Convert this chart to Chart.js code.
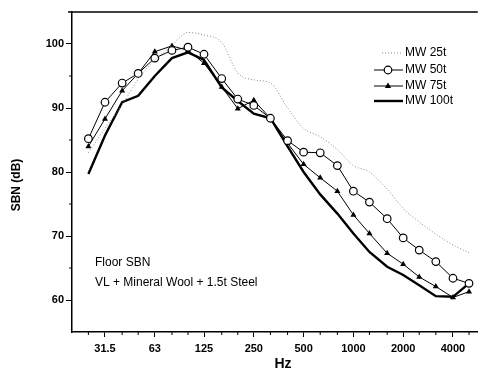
<!DOCTYPE html>
<html>
<head>
<meta charset="utf-8">
<script src="https://cdn.jsdelivr.net/npm/chart.js@4.4.0/dist/chart.umd.min.js"></script>
<style>
  html, body { margin: 0; padding: 0; background: #fff; }
  #wrap { width: 483px; height: 378px; }
</style>
</head>
<body>
<div id="wrap"><canvas id="myChart"></canvas></div>
<script>
// 1/3 octave bands (Hz)
const bands = [25, 31.5, 40, 50, 63, 80, 100, 125, 160, 200, 250, 315, 400, 500, 630, 800, 1000, 1250, 1600, 2000, 2500, 3150, 4000, 5000];
const octaveTicks = [31.5, 63, 125, 250, 500, 1000, 2000, 4000];
const yTicks = [60, 70, 80, 90, 100];
const yMinorTicks = [65, 75, 85, 95];

const mw25 = [83.0, 86.8, 90.5, 94.5, 97.5, 99.8, 101.8, 101.4, 100.2, 95.5, 94.4, 93.9, 90.0, 86.8, 85.5, 83.5, 81.0, 80.0, 77.3, 74.3, 72.2, 70.3, 68.6, 67.4];
const mw50 = [85.2, 90.9, 93.9, 95.4, 97.8, 99.0, 99.5, 98.4, 94.6, 91.4, 90.4, 88.4, 84.9, 83.1, 83.0, 81.0, 77.0, 75.3, 72.7, 69.7, 67.8, 66.0, 63.4, 62.6];
const mw75 = [84.0, 88.3, 92.7, 95.4, 98.8, 99.7, 99.0, 97.0, 93.3, 89.9, 91.2, 88.4, 84.5, 81.2, 79.1, 77.0, 73.3, 70.4, 67.3, 65.6, 63.6, 62.1, 60.4, 61.3];
const mw100 = [79.7, 85.7, 90.9, 91.9, 95.0, 97.8, 98.7, 97.5, 93.2, 91.1, 89.1, 88.4, 84.0, 80.0, 76.5, 73.5, 70.4, 67.5, 65.2, 63.9, 62.3, 60.6, 60.5, 62.6];

const FONT = "'Liberation Sans', Arial, sans-serif";
const toPoints = (arr) => bands.map((f, i) => ({ x: f, y: arr[i] }));

// legend, frame, minor ticks, titles and note
const decorations = {
  id: "decorations",
  afterDraw(chart) {
    const { ctx, chartArea, scales } = chart;
    const x = scales.x, y = scales.y;
    ctx.save();
    ctx.strokeStyle = "#000";
    ctx.lineWidth = 1.5;
    // top frame line
    ctx.beginPath();
    ctx.moveTo(chartArea.left - 4, chartArea.top);
    ctx.lineTo(chartArea.right, chartArea.top);
    ctx.stroke();

    // minor ticks
    ctx.lineWidth = 1;
    bands.forEach((f) => {
      if (octaveTicks.includes(f)) return;
      const px = x.getPixelForValue(f);
      ctx.beginPath();
      ctx.moveTo(px, chartArea.bottom);
      ctx.lineTo(px, chartArea.bottom + 3);
      ctx.stroke();
    });
    yMinorTicks.forEach((v) => {
      const py = y.getPixelForValue(v);
      ctx.beginPath();
      ctx.moveTo(chartArea.left - 3, py);
      ctx.lineTo(chartArea.left, py);
      ctx.stroke();
    });

    // axis titles
    ctx.fillStyle = "#000";
    ctx.textAlign = "center";
    ctx.textBaseline = "middle";
    ctx.font = "bold 14px " + FONT;
    ctx.fillText("Hz", 283, 364);
    ctx.font = "bold 12px " + FONT;
    ctx.save();
    ctx.translate(17, 185);
    ctx.rotate(-Math.PI / 2);
    ctx.fillText("SBN (dB)", 0, 0);
    ctx.restore();

    // note
    ctx.font = "12px " + FONT;
    ctx.textAlign = "left";
    ctx.fillText("Floor SBN", 95, 263);
    ctx.fillText("VL + Mineral Wool + 1.5t Steel", 95, 283);

    // legend
    const rows = [53, 70, 86, 101];
    chart.data.datasets.forEach((ds, i) => {
      const ry = rows[i];
      const x1 = i === 0 ? 382 : 374, x2 = 403;
      ctx.strokeStyle = ds.borderColor;
      ctx.lineWidth = ds.borderWidth;
      ctx.setLineDash(ds.borderDash || []);
      ctx.beginPath();
      ctx.moveTo(x1, ry);
      ctx.lineTo(x2, ry);
      ctx.stroke();
      ctx.setLineDash([]);
      const mx = 388;
      if (ds.pointStyle === "circle" && ds.pointRadius > 0) {
        ctx.beginPath();
        ctx.arc(mx, ry, ds.pointRadius, 0, Math.PI * 2);
        ctx.fillStyle = "#fff";
        ctx.fill();
        ctx.lineWidth = 1.2;
        ctx.stroke();
      } else if (ds.pointStyle === "triangle" && ds.pointRadius > 0) {
        const r = ds.pointRadius;
        ctx.beginPath();
        ctx.moveTo(mx, ry - r);
        ctx.lineTo(mx + r * 0.9, ry + r * 0.6);
        ctx.lineTo(mx - r * 0.9, ry + r * 0.6);
        ctx.closePath();
        ctx.fillStyle = "#000";
        ctx.fill();
      }
      ctx.fillStyle = "#000";
      ctx.font = "12px " + FONT;
      ctx.textAlign = "left";
      ctx.textBaseline = "middle";
      ctx.fillText(ds.label, 405, ry);
    });
    ctx.restore();
  },
};

new Chart(document.getElementById("myChart"), {
  type: "line",
  data: {
    datasets: [
      {
        label: "MW 25t",
        data: toPoints(mw25),
        borderColor: "#8a8a8a",
        borderWidth: 1,
        borderDash: [1, 2],
        pointRadius: 0,
        cubicInterpolationMode: "monotone",
      },
      {
        label: "MW 50t",
        data: toPoints(mw50),
        borderColor: "#000",
        borderWidth: 1,
        pointStyle: "circle",
        pointRadius: 3.8,
        pointBackgroundColor: "#fff",
        pointBorderColor: "#000",
        pointBorderWidth: 1.2,
      },
      {
        label: "MW 75t",
        data: toPoints(mw75),
        borderColor: "#000",
        borderWidth: 1,
        pointStyle: "triangle",
        pointRadius: 3.5,
        pointBackgroundColor: "#000",
        pointBorderColor: "#000",
        pointBorderWidth: 0,
      },
      {
        label: "MW 100t",
        data: toPoints(mw100),
        borderColor: "#000",
        borderWidth: 2.4,
        pointRadius: 0,
      },
    ],
  },
  options: {
    responsive: true,
    maintainAspectRatio: false,
    animation: false,
    layout: { padding: { left: 0, top: 12, right: 3, bottom: 0 } },
    plugins: { legend: { display: false }, tooltip: { enabled: false } },
    scales: {
      x: {
        type: "logarithmic",
        min: 19.9,
        max: 5650,
        afterBuildTicks: (s) => { s.ticks = octaveTicks.map((v) => ({ value: v })); },
        afterFit: (s) => { s.height = 46; },
        ticks: {
          autoSkip: false,
          maxRotation: 0,
          padding: 5,
          color: "#000",
          font: { family: FONT, size: 11, weight: "bold" },
          callback: (v) => String(v),
        },
        grid: { drawOnChartArea: false, drawTicks: true, tickLength: 5, color: "#000" },
        border: { display: true, color: "#000", width: 1.5 },
      },
      y: {
        min: 55,
        max: 105,
        afterBuildTicks: (s) => { s.ticks = yTicks.map((v) => ({ value: v })); },
        afterFit: (s) => { s.width = 72; },
        ticks: {
          padding: 2,
          color: "#000",
          font: { family: FONT, size: 11, weight: "bold" },
        },
        grid: { drawOnChartArea: false, drawTicks: true, tickLength: 6, color: "#000" },
        border: { display: true, color: "#000", width: 1.5 },
      },
    },
  },
  plugins: [decorations],
});
</script>
</body>
</html>
